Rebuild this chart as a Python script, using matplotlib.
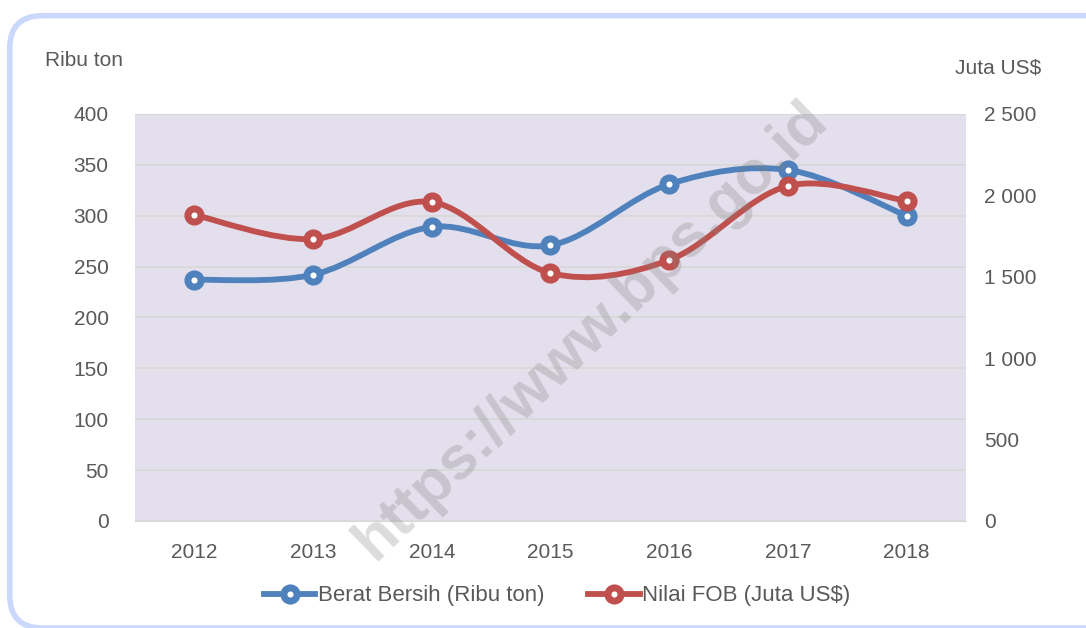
import numpy as np
import matplotlib
matplotlib.use("Agg")
import matplotlib.pyplot as plt
from matplotlib.patches import FancyBboxPatch
from matplotlib.path import Path
from matplotlib.patches import PathPatch
from matplotlib.lines import Line2D

years = ["2012", "2013", "2014", "2015", "2016", "2017", "2018"]
berat = [237, 242, 289, 271, 331, 345, 300]          # Ribu ton
nilai = [1880, 1732, 1959, 1523, 1603, 2058, 1966]   # Juta US$

left_ticks = [0, 50, 100, 150, 200, 250, 300, 350, 400]
right_ticks = [0, 500, 1000, 1500, 2000, 2500]

blue = "#4F81BD"
red = "#C0504D"
txt = "#595959"

plt.rcParams["font.family"] = ["Liberation Sans Narrow", "Liberation Sans", "DejaVu Sans"]


def smooth_path(x, y):
    # excel-like smoothed line: cubic bezier, catmull-rom control points
    verts = [(x[0], y[0])]
    codes = [Path.MOVETO]
    n = len(x)
    for i in range(n - 1):
        x0, y0 = (x[i - 1], y[i - 1]) if i > 0 else (x[i], y[i])
        x3, y3 = (x[i + 2], y[i + 2]) if i + 2 < n else (x[i + 1], y[i + 1])
        c1 = (x[i] + (x[i + 1] - x0) / 6, y[i] + (y[i + 1] - y0) / 6)
        c2 = (x[i + 1] - (x3 - x[i]) / 6, y[i + 1] - (y3 - y[i]) / 6)
        verts += [c1, c2, (x[i + 1], y[i + 1])]
        codes += [Path.CURVE4] * 3
    return Path(verts, codes)


fig = plt.figure(figsize=(10.86, 6.28), dpi=100)

# rounded frame
frame = FancyBboxPatch((0.009, 0.0), 1.2, 0.975, boxstyle="round,pad=0,rounding_size=0.03",
                       transform=fig.transFigure, facecolor="white", edgecolor="#CAD8FB",
                       linewidth=4, mutation_aspect=1.73, zorder=-5)
fig.patches.append(frame)

ax = fig.add_axes([0.1243, 0.1704, 0.7652, 0.6481])
ax.set_facecolor("#E4DFEC")
ax2 = ax.twinx()

x = np.arange(len(years))
scale = 2500 / 400
ax.set_xlim(-0.5, 6.5)
ax.set_ylim(0, 400)
ax2.set_ylim(0, 2500)
ax.set_yticks(left_ticks)
ax2.set_yticks(right_ticks)
ax2.set_yticklabels([f"{v:,}".replace(",", " ") for v in right_ticks])
ax.set_xticks(x)
ax.set_xticklabels(years)
ax.grid(axis="y", color="#D9D9D9", linewidth=1.3)
ax.set_axisbelow(True)
for a in (ax, ax2):
    for s in a.spines.values():
        s.set_visible(False)
    a.tick_params(length=0, labelsize=15, colors=txt)
ax.spines["bottom"].set_visible(True)
ax.spines["bottom"].set_color("#D9D9D9")
ax.tick_params(axis="y", pad=19)
ax2.tick_params(axis="y", pad=13)
ax.tick_params(axis="x", pad=16)

# both series drawn on the right axis (berat rescaled) so markers sit over every line
mk = dict(marker="o", markersize=9.5, markerfacecolor="white", markeredgewidth=5)
for vals, c in ((np.array(berat) * scale, blue), (np.array(nilai), red)):
    ax2.add_patch(PathPatch(smooth_path(x, vals), fill=False, edgecolor=c,
                            linewidth=4.2, capstyle="round", zorder=2))
for vals, c in ((np.array(berat) * scale, blue), (np.array(nilai), red)):
    ax2.plot(x, vals, markeredgecolor=c, linestyle="none", zorder=5, **mk)

fig.text(0.077, 0.903, "Ribu ton", fontsize=15, color=txt, ha="center", va="center")
fig.text(0.919, 0.892, "Juta US$", fontsize=15, color=txt, ha="center", va="center")

handles = [Line2D([], [], color=c, linewidth=4.2, markeredgecolor=c, **mk) for c in (blue, red)]
fig.legend(handles, ["Berat Bersih (Ribu ton)", "Nilai FOB (Juta US$)"], loc="center",
           bbox_to_anchor=(0.513, 0.051), ncol=2, frameon=False, fontsize=16,
           handlelength=2.3, handletextpad=0.1, columnspacing=2.0, labelcolor=txt)

# watermark
fig.text(0.545, 0.474, "https://www.bps.go.id", fontsize=44, fontweight="bold",
         family=["Liberation Sans", "DejaVu Sans"], color="#808080", alpha=0.28,
         rotation=44, ha="center", va="center", zorder=10)

fig.savefig("out.png", dpi=100)
